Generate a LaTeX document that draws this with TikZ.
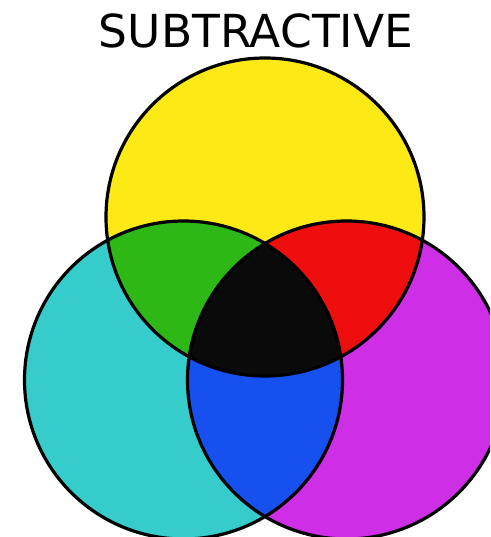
\documentclass[tikz,border=0pt]{standalone}
\usepackage{fontspec}
\newfontfamily\titlefont{DejaVu Sans}
\definecolor{cyel}{RGB}{252,233,22}
\definecolor{ccya}{RGB}{54,204,204}
\definecolor{cmag}{RGB}{206,46,230}
\definecolor{cgre}{RGB}{46,184,22}
\definecolor{cred}{RGB}{238,14,14}
\definecolor{cblu}{RGB}{22,80,238}
\definecolor{cblk}{RGB}{10,10,10}
\begin{document}
\begin{tikzpicture}[x=1pt,y=-1pt,
  ring/.style={draw=black,line width=3.2pt}]
\useasboundingbox (0,0) rectangle (490,537);
\clip (0,0) rectangle (490,537);
\coordinate (Y) at (265,217);
\coordinate (C) at (183.5,380);
\coordinate (M) at (346.5,380);
\def\R{159pt}
% base discs
\fill[cyel] (Y) circle (\R);
\fill[ccya] (C) circle (\R);
\fill[cmag] (M) circle (\R);
% pairwise overlaps
\begin{scope}
  \clip (Y) circle (\R);
  \fill[cgre] (C) circle (\R);
  \fill[cred] (M) circle (\R);
\end{scope}
\begin{scope}
  \clip (C) circle (\R);
  \fill[cblu] (M) circle (\R);
\end{scope}
% triple overlap
\begin{scope}
  \clip (Y) circle (\R);
  \clip (C) circle (\R);
  \fill[cblk] (M) circle (\R);
\end{scope}
% outlines
\draw[ring] (Y) circle (\R);
\draw[ring] (C) circle (\R);
\draw[ring] (M) circle (\R);
\node[inner sep=0pt] (title) at (256,31) {\titlefont\fontsize{45.5}{45.5}\selectfont SUBTRACTIVE};
\end{tikzpicture}
\end{document}
